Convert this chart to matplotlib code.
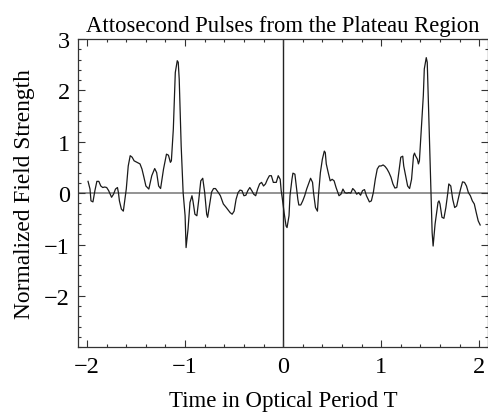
import matplotlib
matplotlib.use("Agg")
import matplotlib.pyplot as plt
from matplotlib.ticker import MultipleLocator

# field trace (time in T, normalized field)
t = [-1.99, -1.97, -1.96, -1.94, -1.92, -1.90, -1.88, -1.86, -1.84, -1.82, -1.80,
     -1.78, -1.75, -1.73, -1.71, -1.69, -1.68, -1.67, -1.65, -1.63, -1.62, -1.60,
     -1.58, -1.56, -1.54, -1.52, -1.49, -1.46, -1.44, -1.42, -1.40, -1.37, -1.34,
     -1.31, -1.29, -1.27, -1.25, -1.22, -1.19, -1.17, -1.15, -1.14, -1.12, -1.10,
     -1.08, -1.07, -1.06, -1.04, -1.02, -1.00, -0.99, -0.97, -0.95, -0.93, -0.92,
     -0.90, -0.88, -0.86, -0.84, -0.82, -0.80, -0.78, -0.77, -0.75, -0.73, -0.71,
     -0.69, -0.66, -0.64, -0.61, -0.58, -0.54, -0.52, -0.50, -0.48, -0.46, -0.44,
     -0.42, -0.40, -0.38, -0.36, -0.34, -0.32, -0.30, -0.28, -0.26, -0.24, -0.22,
     -0.20, -0.18, -0.16, -0.14, -0.12, -0.10, -0.07, -0.05, -0.03, -0.02, -0.01,
     0.01, 0.03, 0.04, 0.06, 0.07, 0.09, 0.10, 0.12, 0.13, 0.15, 0.16, 0.18, 0.20,
     0.22, 0.24, 0.27, 0.28, 0.30, 0.31, 0.33, 0.35, 0.36, 0.38, 0.40, 0.42, 0.43,
     0.44, 0.46, 0.48, 0.50, 0.52, 0.54, 0.57, 0.59, 0.61, 0.63, 0.65, 0.67, 0.69,
     0.71, 0.73, 0.75, 0.77, 0.79, 0.81, 0.83, 0.85, 0.88, 0.90, 0.92, 0.94, 0.96,
     0.98, 1.00, 1.02, 1.04, 1.06, 1.08, 1.10, 1.12, 1.14, 1.16, 1.18, 1.20, 1.22,
     1.23, 1.25, 1.27, 1.29, 1.31, 1.33, 1.34, 1.35, 1.37, 1.38, 1.39, 1.41, 1.43,
     1.44, 1.46, 1.47, 1.48, 1.50, 1.52, 1.53, 1.55, 1.58, 1.59, 1.60, 1.62, 1.64,
     1.66, 1.68, 1.69, 1.71, 1.73, 1.75, 1.77, 1.79, 1.81, 1.83, 1.85, 1.87, 1.89,
     1.91, 1.93, 1.95, 1.97, 1.99, 2.01]
field = [0.23, 0.08, -0.15, -0.17, 0.05, 0.23, 0.23, 0.14, 0.11, 0.12, 0.11,
         0.05, -0.08, -0.02, 0.08, 0.11, 0.01, -0.15, -0.31, -0.35, -0.21, 0.08,
         0.53, 0.73, 0.70, 0.63, 0.60, 0.57, 0.47, 0.31, 0.14, 0.08, 0.34,
         0.48, 0.40, 0.14, 0.09, 0.47, 0.76, 0.74, 0.60, 0.63, 1.25, 2.35,
         2.58, 2.55, 2.22, 0.92, 0.01, -0.44, -1.06, -0.70, -0.18, -0.05, -0.15,
         -0.41, -0.44, -0.12, 0.24, 0.29, 0.01, -0.41, -0.47, -0.22, 0.02, 0.09,
         0.09, 0.01, -0.05, -0.21, -0.28, -0.38, -0.41, -0.35, -0.12, 0.01, 0.06,
         0.05, -0.05, -0.04, 0.05, 0.11, 0.05, -0.02, -0.05, 0.08, 0.18, 0.21,
         0.14, 0.18, 0.27, 0.34, 0.34, 0.21, 0.21, 0.34, 0.27, 0.05, -0.08,
         -0.38, -0.64, -0.67, -0.44, -0.05, 0.27, 0.39, 0.37, 0.21, -0.12, -0.23, -0.23, -0.15,
         -0.05, 0.08, 0.24, 0.29, 0.21, 0.01, -0.28, -0.35, -0.05, 0.40, 0.66, 0.82, 0.79,
         0.57, 0.40, 0.24, 0.27, 0.24, 0.11, -0.05, -0.02, 0.08, 0.01, 0.00, 0.01, 0.00,
         0.09, 0.05, -0.02, 0.01, -0.04, 0.05, 0.07, -0.05, -0.17, -0.15, 0.01, 0.27, 0.47,
         0.53, 0.53, 0.55, 0.52, 0.47, 0.40, 0.31, 0.18, 0.10, 0.11, 0.40, 0.70, 0.72,
         0.53, 0.34, 0.14, 0.09, 0.27, 0.73, 0.78, 0.73, 0.66, 0.57, 0.63, 1.25, 1.90,
         2.42, 2.64, 2.55, 1.90, 0.60, -0.77, -1.03, -0.60, -0.18, -0.15, -0.21, -0.47, -0.49,
         -0.28, 0.01, 0.18, 0.14, -0.12, -0.28, -0.25, -0.08, 0.08, 0.22, 0.21, 0.14, 0.01,
         -0.05, -0.15, -0.21, -0.38, -0.54, -0.62]

title = "Attosecond Pulses from the Plateau Region"
xlabel = "Time in Optical Period T"
ylabel = "Normalized Field Strength"
xticks = [-2, -1, 0, 1, 2]
yticks = [-2, -1, 0, 1, 2, 3]

plt.rcParams["font.family"] = ["Liberation Serif", "DejaVu Serif"]

fig = plt.figure(figsize=(4.89, 4.14), dpi=100)
ax = fig.add_axes([0.160, 0.159, 0.838, 0.744])

ax.axhline(0, color="#808080", lw=1.2, zorder=1)
ax.axvline(0, color="#222222", lw=1.0, zorder=1)
ax.plot(t, field, color="#1a1a1a", lw=0.9, zorder=2)

ax.set_xlim(-2.09, 2.09)
ax.set_ylim(-3, 3)
ax.set_xticks(xticks)
ax.set_xticklabels([str(v).replace("-", "\u2212") for v in xticks])
ax.set_yticks(yticks)
ax.set_yticklabels([str(v).replace("-", "\u2212") for v in yticks])
ax.xaxis.set_minor_locator(MultipleLocator(0.2))
ax.yaxis.set_minor_locator(MultipleLocator(0.2))
ax.tick_params(which="both", direction="in", top=True, right=True,
               labeltop=False, labelright=False, color="#333333", width=0.8)
ax.tick_params(which="major", length=5, labelsize=17.5, pad=6)
ax.tick_params(which="minor", length=2.5)
for s in ax.spines.values():
    s.set_color("#333333")
    s.set_linewidth(0.9)

ax.set_title(title, fontsize=16.3, pad=6)
ax.set_xlabel(xlabel, fontsize=16.5, labelpad=10)
ax.set_ylabel(ylabel, fontsize=16.8)
ax.yaxis.set_label_coords(-0.105, 0.5)

fig.savefig("out.png", dpi=100)
